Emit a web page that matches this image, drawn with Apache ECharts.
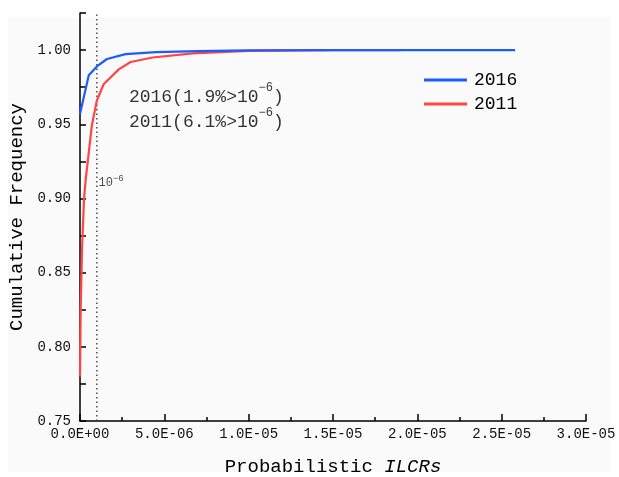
<!DOCTYPE html>
<html><head><meta charset="utf-8">
<script src="https://cdn.jsdelivr.net/npm/echarts@6/dist/echarts.min.js"></script>
<style>html,body{margin:0;padding:0;background:#fff}#c{width:619px;height:477px}</style>
</head><body><div id="c"></div>
<script>
// Data
const ilcr2016 = [0, 5.2e-7, 1.0e-6, 1.6e-6, 2.7e-6, 4.5e-6, 7.0e-6, 1.0e-5, 1.5e-5, 2.58e-5];
const freq2016 = [0.957, 0.983, 0.989, 0.994, 0.9973, 0.9986, 0.9993, 0.9998, 1.0, 1.0];
const ilcr2011 = [0, 4e-8, 1.2e-7, 2.4e-7, 3.4e-7, 7.0e-7, 1.0e-6, 1.4e-6, 2.3e-6, 3.0e-6, 4.3e-6, 6.7e-6, 1.0e-5, 1.5e-5, 1.9e-5];
const freq2011 = [0.78, 0.825, 0.866, 0.90, 0.913, 0.949, 0.966, 0.977, 0.987, 0.992, 0.995, 0.9978, 0.9995, 1.0, 1.0];
const seriesNames = ['2016', '2011'];
const threshold = 1e-6;
const xTicks = { min: 0, max: 3e-5, interval: 5e-6 };
const yTicks = { min: 0.75, max: 1.025, interval: 0.025 };

const FONT = '"Liberation Mono", monospace';
const INK = '#000';
const zip = (a, b) => a.map((v, i) => [v, b[i]]);
function fmtX(v) {
  if (Math.abs(v) < 1e-15) return '0.0E+00';
  const e = Math.floor(Math.log10(v) + 1e-9);
  const m = v / Math.pow(10, e);
  return m.toFixed(1) + 'E' + (e < 0 ? '-' : '+') + String(Math.abs(e)).padStart(2, '0');
}
function fmtY(v) {
  const k = Math.round(v / 0.05);
  return Math.abs(k * 0.05 - v) < 1e-6 ? v.toFixed(2) : '';
}
const supRich = {
  t: { fontFamily: FONT, fontSize: 18, color: INK, verticalAlign: 'bottom', lineHeight: 24 },
  s: { fontFamily: FONT, fontSize: 12, color: INK, verticalAlign: 'top', lineHeight: 24 }
};

const chart = echarts.init(document.getElementById('c'));
chart.setOption({
  backgroundColor: '#ffffff',
  animation: false,
  graphic: [{ type: 'rect', z: -100, shape: { x: 8, y: 18, width: 603, height: 454 }, style: { fill: '#fafafa' }, silent: true }],
  grid: { left: 80, right: 33, top: 13, bottom: 56, outerBoundsMode: 'none', containLabel: false },
  legend: {
    orient: 'vertical', left: 419, top: 66, itemWidth: 43, itemHeight: 3, itemGap: 6,
    icon: 'rect',
    textStyle: { fontFamily: FONT, fontSize: 18, color: INK, padding: [0, 0, 0, 2] },
    data: seriesNames
  },
  xAxis: {
    type: 'value', min: xTicks.min, max: xTicks.max, interval: xTicks.interval,
    name: 'Probabilistic {i|ILCRs}', nameLocation: 'middle', nameGap: 36,
    nameTextStyle: { fontFamily: FONT, fontSize: 19, color: INK,
      rich: { i: { fontFamily: FONT, fontSize: 19, fontStyle: 'italic', color: INK } } },
    axisLine: { lineStyle: { color: '#000', width: 1.5 } },
    axisTick: { inside: true, length: 7, lineStyle: { color: '#000', width: 1.5 } },
    minorTick: { show: true, splitNumber: 2, length: 4, lineStyle: { color: '#000', width: 1.5 } },
    axisLabel: { fontFamily: FONT, fontSize: 14, color: '#111', margin: 6, formatter: fmtX },
    splitLine: { show: false }
  },
  yAxis: {
    type: 'value', min: yTicks.min, max: yTicks.max, interval: yTicks.interval,
    name: 'Cumulative Frequency', nameLocation: 'middle', nameGap: 51,
    nameTextStyle: { fontFamily: FONT, fontSize: 19, color: INK },
    axisLine: { show: true, lineStyle: { color: '#000', width: 1.5 } },
    axisTick: { show: true, inside: true, length: 6, lineStyle: { color: '#000', width: 1.5 } },
    axisLabel: { fontFamily: FONT, fontSize: 14, color: '#111', margin: 9, formatter: fmtY,
      showMinLabel: true, showMaxLabel: true },
    splitLine: { show: false }
  },
  series: [
    {
      name: seriesNames[0], type: 'line', data: zip(ilcr2016, freq2016),
      showSymbol: false, symbol: 'none', z: 3,
      lineStyle: { color: '#1a5cff', width: 2.2 }, itemStyle: { color: '#1a5cff' }
    },
    {
      name: seriesNames[1], type: 'line', data: zip(ilcr2011, freq2011),
      showSymbol: false, symbol: 'none', z: 2,
      lineStyle: { color: '#ff4545', width: 2.2 }, itemStyle: { color: '#ff4545' }
    },
    {
      name: 'threshold', type: 'line', showSymbol: false, symbol: 'none', z: 1, silent: true,
      data: [[threshold, yTicks.min], [threshold, yTicks.max]],
      lineStyle: { color: '#333', type: [1.5, 3], width: 1.3 }
    },
    {
      type: 'scatter', symbolSize: 0, silent: true, z: 5, tooltip: { show: false },
      data: [
        { value: [2.9e-6, 0.9705], label: { show: true, position: 'right', distance: 0,
            formatter: '{t|2016(1.9%>10}{s|−6}{t|)}', rich: supRich } },
        { value: [2.9e-6, 0.9535], label: { show: true, position: 'right', distance: 0,
            formatter: '{t|2011(6.1%>10}{s|−6}{t|)}', rich: supRich } },
        { value: [1.1e-6, 0.9115], label: { show: true, position: 'right', distance: 0,
            formatter: '{a|10}{b|−6}',
            rich: { a: { fontFamily: FONT, fontSize: 12, color: '#222', verticalAlign: 'bottom', lineHeight: 15 },
                    b: { fontFamily: FONT, fontSize: 9, color: '#222', verticalAlign: 'top', lineHeight: 15 } } } }
      ]
    }
  ]
});
</script></body></html>
